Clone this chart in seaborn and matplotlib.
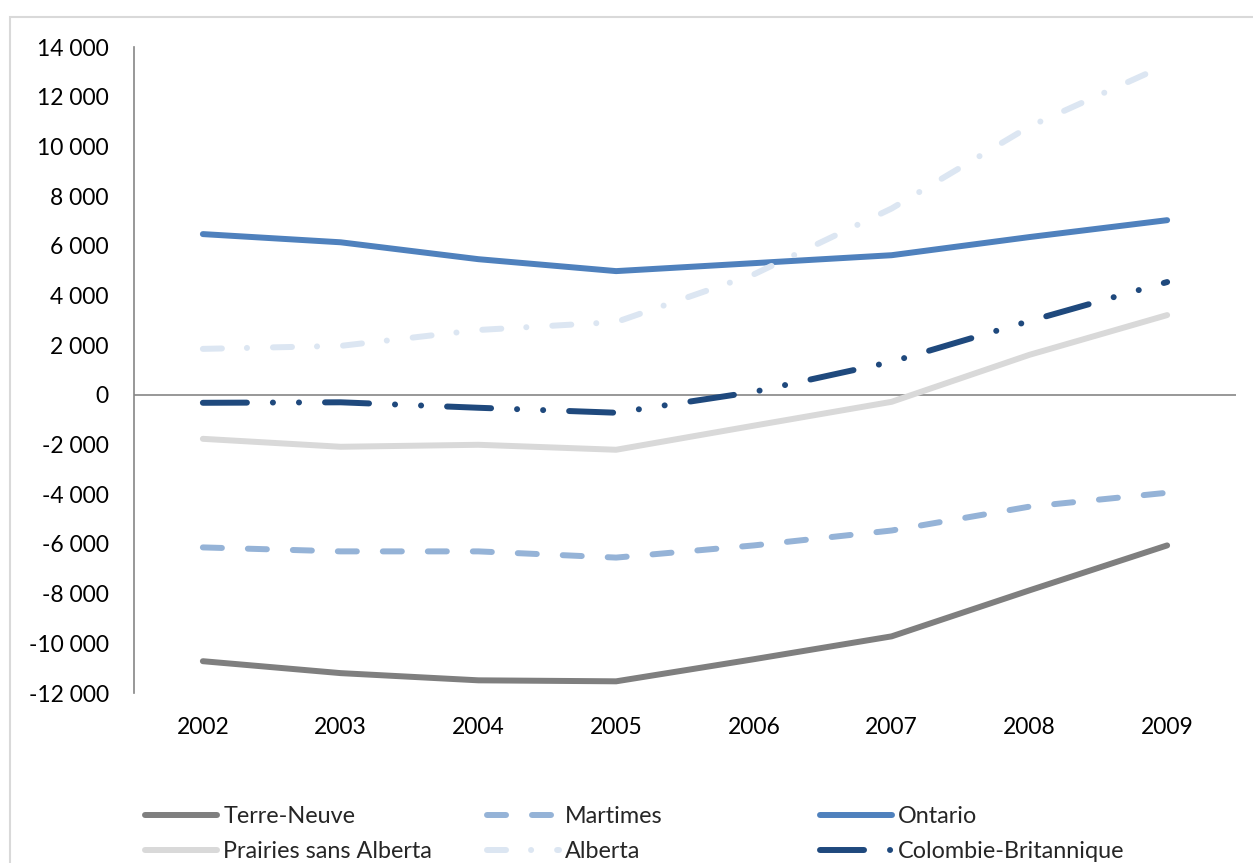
import seaborn as sns
import matplotlib.pyplot as plt
import pandas as pd
from matplotlib.patches import Rectangle
from matplotlib.ticker import FuncFormatter

years = [2002, 2003, 2004, 2005, 2006, 2007, 2008, 2009]
regions = ['Terre-Neuve', 'Martimes', 'Ontario',
           'Prairies sans Alberta', 'Alberta', 'Colombie-Britannique']
terre_neuve = [-10720, -11200, -11490, -11530, -10640, -9720, -7870, -6060]
martimes = [-6140, -6300, -6300, -6550, -6060, -5460, -4500, -3940]
ontario = [6470, 6140, 5460, 4980, 5300, 5620, 6350, 7030]
prairies = [-1770, -2090, -2010, -2210, -1240, -280, 1610, 3210]
alberta = [1850, 1970, 2610, 2930, 4850, 7500, 10800, 13300]
colombie = [-320, -300, -520, -720, 120, 1330, 2970, 4540]
yticks = list(range(-12000, 14001, 2000))

series = [terre_neuve, martimes, ontario, prairies, alberta, colombie]
df = pd.DataFrame({
    'annee': years * len(regions),
    'solde': [v for s in series for v in s],
    'region': [r for r in regions for _ in years],
})

colors = {'Terre-Neuve': '#7f7f7f', 'Martimes': '#95b3d7', 'Ontario': '#4f81bd',
          'Prairies sans Alberta': '#d9d9d9', 'Alberta': '#dce6f2',
          'Colombie-Britannique': '#1f497d'}
dashes = {'Terre-Neuve': '', 'Martimes': (13.7, 18.7), 'Ontario': '',
          'Prairies sans Alberta': '', 'Alberta': (13.7, 18.0, 0.07, 18.7),
          'Colombie-Britannique': (31.7, 18.7, 0.07, 18.7, 0.07, 18.7)}

sns.set_style('white')
plt.rcParams['font.family'] = ['Lato', 'DejaVu Sans']
plt.rcParams['lines.scale_dashes'] = False

W, H = 1253, 863
fig = plt.figure(figsize=(W / 100, H / 100), dpi=100)
ax = fig.add_axes([134 / W, 1 - 693 / H, (1236 - 134) / W, (693 - 47) / H])

sns.lineplot(data=df, x='annee', y='solde', hue='region', style='region',
             hue_order=regions, style_order=regions, palette=colors, dashes=dashes,
             linewidth=4.3, solid_capstyle='round', dash_capstyle='round',
             legend=False, ax=ax)
lines = list(ax.lines[:6])

ax.axhline(0, color='#868686', lw=1.2, zorder=1)
ax.set_xlim(2001.5, 2009.5)
ax.set_ylim(-12000, 14000)
ax.set_xticks(years)
ax.set_yticks(yticks)
ax.yaxis.set_major_formatter(FuncFormatter(lambda v, p: f"{v:,.0f}".replace(',', ' ')))
ax.set_xlabel('')
ax.set_ylabel('')
ax.tick_params(axis='both', length=0, labelsize=16.5, colors='black')
ax.tick_params(axis='y', pad=18)
ax.tick_params(axis='x', pad=17)
for side in ['top', 'right', 'bottom']:
    ax.spines[side].set_visible(False)
ax.spines['left'].set_color('#868686')
ax.spines['left'].set_linewidth(1.2)

# legend in three columns like the original
col_x = [145, 487, 820]
for i, x in enumerate(col_x):
    pair = [lines[i], lines[i + 3]]
    fig.legend(pair, [regions[i], regions[i + 3]], loc='upper left',
               bbox_to_anchor=(x / W, 1 - 806 / H), frameon=False,
               fontsize=16.8, handlelength=3.1, handletextpad=0.25,
               labelspacing=0.62, borderpad=0, borderaxespad=0)

fig.patches.append(Rectangle((10 / W, -0.1), 2, 1 - 17 / H + 0.1,
                             transform=fig.transFigure, fill=False,
                             ec='#d9d9d9', lw=1.5))

plt.savefig('out.png', dpi=100)
